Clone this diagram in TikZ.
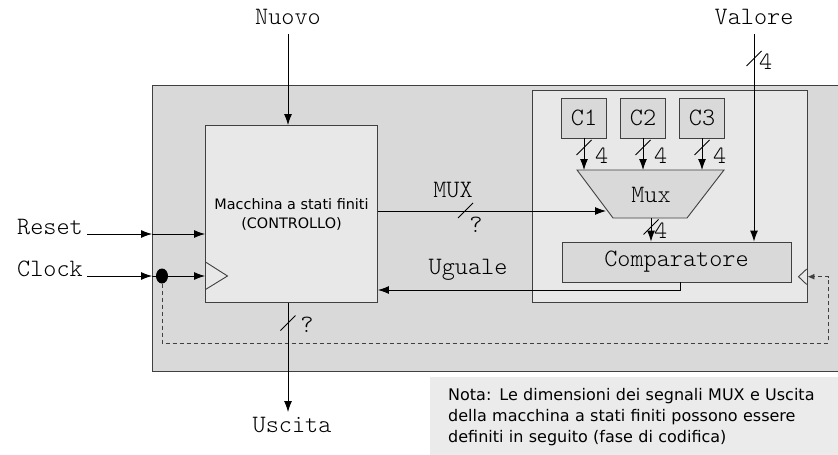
\documentclass[tikz,border=0pt]{standalone}
\usepackage{fontspec}
\newfontfamily\blkfont{DejaVu Sans}
\usetikzlibrary{arrows.meta,calc,positioning}
\usetikzlibrary{shapes.geometric}
\definecolor{sysgray}{HTML}{D9D9D9}
\definecolor{fsmgray}{HTML}{E8E8E8}
\definecolor{notegray}{HTML}{EBEBEB}
\definecolor{edgegray}{HTML}{404040}

\begin{document}
\begin{tikzpicture}[x=1pt,y=-1pt,
every node/.style={inner sep=0pt},
lbl/.style={font=\ttfamily\fontseries{l}\fontsize{25}{27}\selectfont},
blk/.style={draw=edgegray,line width=0.9pt},
sig/.style={line width=0.9pt,-{Latex[length=11pt,width=8pt]}},
dsig/.style={draw=edgegray,line width=0.9pt,dash pattern=on 4pt off 3pt,-{Latex[length=7pt,width=6pt]}},
bus/.pic={\draw[line width=0.9pt] (-7.5,7.5)--(7.5,-7.5);}]
\clip (0,0) rectangle (838,455);
\node[blk,fill=sysgray,minimum width=700,minimum height=286] (sys) at (502.5,228) {};
\node[blk,fill=fsmgray,minimum width=172,minimum height=177,align=center,
font=\blkfont\fontsize{14.4}{19}\selectfont] (fsm) at (291.5,214) {Macchina a stati finiti\\(CONTROLLO)};
\node[blk,fill=fsmgray,minimum width=275,minimum height=212] (dp) at (669.5,196.7) {};
\foreach \i/\x in {1/584,2/643,3/702}
\node[blk,fill=sysgray,lbl,minimum width=45,minimum height=40] (c\i) at (\x,118) {C\i};
\draw[blk,fill=sysgray] (577,170) coordinate (mtl) -- (724,170) coordinate (mtr)
-- (687,218) coordinate (mbr) -- (613,218) coordinate (mbl) -- cycle;
\node[lbl] (mux) at (651,195) {Mux};
\node[blk,fill=sysgray,lbl,minimum width=229,minimum height=40] (cmp) at (676.5,262) {Comparatore};
\draw[blk] (205.5,262) -- (227.5,276) -- (205.5,289.5);
\draw[blk] (806.7,269) -- (798.5,276.7) -- (806.7,284.5);
\node[lbl] (nuovo) at (288,17) {Nuovo};
\draw[sig,shorten <=9pt] (nuovo) -- (nuovo |- fsm.north);
\node[lbl] (valore) at (754,17) {Valore};
\draw[sig,shorten <=9pt] (valore) -- (valore |- cmp.north);
\pic at (754,58.5) {bus};
\node[lbl,anchor=west] at (759,62) {4};
\foreach \i in {1,2,3} {
\draw[sig] (c\i) -- (c\i |- mtl);
\pic at ($(c\i.south)+(0,9)$) {bus};
\node[lbl,anchor=west] at ($(c\i.south)+(11,17)$) {4};
}
\draw[sig] (mux |- mbl) -- (mux |- cmp.north);
\pic at (651,227) {bus};
\node[lbl,anchor=west] at (654,231) {4};
\coordinate (muxin) at (606,211);
\draw[sig] (fsm.east |- muxin) -- (muxin);
\node[lbl] at (453,190) {MUX};
\pic at (465.5,210.5) {bus};
\node[lbl] at (476,225) {?};
\draw[sig] ([xshift=3.5pt]cmp.south) |- (fsm.east |- 0,290);
\node[lbl] at (468,270) {Uguale};
\node[lbl,anchor=base east] (reset) at (83,234) {Reset};
\draw[sig] ([xshift=4pt]reset.base east) -- (reset.base east -| sys.west);
\draw[sig] (reset.base east -| sys.west) -- (reset.base east -| fsm.west);
\node[lbl,anchor=base east] (clock) at (83,276) {Clock};
\draw[sig] ([xshift=4pt]clock.base east) -- (clock.base east -| sys.west);
\node[fill=black,ellipse,minimum width=12,minimum height=15] (clk) at (162,276) {};
\draw[line width=0.9pt] (clock.base east -| sys.west) -- (clk);
\draw[sig] (clk) -- (clk -| fsm.west);
\coordinate (fb) at (828,343);
\draw[dsig] (clk) |- (fb) |- (dp.east |- 0,276.7);
\node[lbl] (uscita) at (292,425) {Uscita};
\draw[sig,shorten >=5pt] (nuovo |- fsm.south) -- (nuovo |- uscita.north);
\pic at (288,323) {bus};
\node[lbl] at (307,325) {?};
\node[fill=notegray,anchor=north west,text width=390,minimum height=80,inner xsep=18pt,
inner ysep=7pt,align=left,font=\blkfont\fontsize{16}{21}\selectfont] (nota) at (430,377)
{Nota: Le dimensioni dei segnali MUX e Uscita\\della macchina a stati finiti possono essere\\definiti in seguito (fase di codifica)};
\end{tikzpicture}
\end{document}
